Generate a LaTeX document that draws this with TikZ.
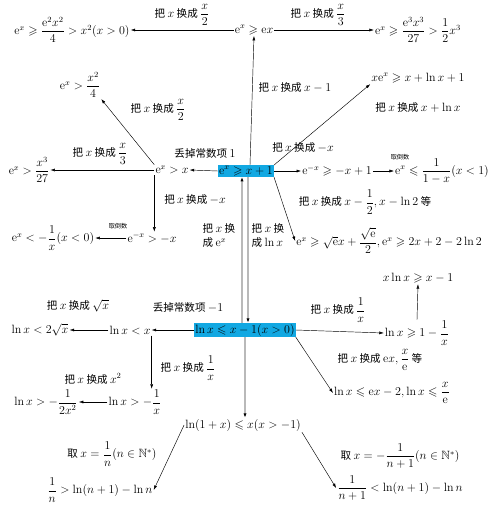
\documentclass[tikz,border=0pt]{standalone}
\usepackage{amsmath,amssymb}
\usepackage{fontspec}
\newfontfamily\cjk[Scale=0.88]{Noto Sans CJK SC}
\usetikzlibrary{arrows.meta}
\definecolor{hl}{RGB}{18,168,226}
\newcommand\eu{\mathrm{e}}
\begin{document}
\begin{tikzpicture}[x=1pt,y=-1pt,
  every node/.style={inner sep=1pt,font=\cjk\fontsize{12}{14}\selectfont},
  tinylbl/.style={font=\cjk\fontsize{7}{8}\selectfont},
  hlbox/.style={fill=hl,inner sep=1pt},
  arr/.style={-{Latex[length=4.5pt,width=3pt]},line width=0.45pt},
  garr/.style={-{Latex[length=4.5pt,width=3.2pt,color=black]},line width=1.3pt,draw=gray!55}]
\useasboundingbox (0,0) rectangle (500,507);
% expressions
\node (n1) at (72,30) {$\eu^x\geqslant\dfrac{\eu^2x^2}{4}>x^2(x>0)$};
\node (n2) at (254,30) {$\eu^x\geqslant\eu x$};
\node (n3) at (418,30) {$\eu^x\geqslant\dfrac{\eu^3x^3}{27}>\dfrac12x^3$};
\node (n4) at (80,85) {$\eu^x>\dfrac{x^2}{4}$};
\node (n5) at (418,78) {$x\eu^x\geqslant x+\ln x+1$};
\node (n6) at (29,170) {$\eu^x>\dfrac{x^3}{27}$};
\node (n7) at (172,170) {$\eu^x>x$};
\node[hlbox] (b1) at (246,171) {$\eu^x\geqslant x+1$};
\node (n8) at (337,171) {$\eu^{-x}\geqslant-x+1$};
\node (n9) at (442,171) {$\eu^x\leqslant\dfrac{1}{1-x}(x<1)$};
\node (n10) at (389,241) {$\eu^x\geqslant\sqrt{\eu}x+\dfrac{\sqrt{\eu}}{2},\eu^x\geqslant2x+2-2\ln2$};
\node (n11) at (152,238) {$\eu^{-x}>-x$};
\node (n12) at (53,238) {$\eu^x<-\dfrac1x(x<0)$};
\node[hlbox] (b2) at (245,330) {$\ln x\leqslant x-1(x>0)$};
\node (n13) at (130,330) {$\ln x<x$};
\node (n14) at (40,330) {$\ln x<2\sqrt{x}$};
\node (n15) at (417,333) {$\ln x\geqslant1-\dfrac1x$};
\node (n16) at (418,278) {$x\ln x\geqslant x-1$};
\node (n17) at (392,393) {$\ln x\leqslant\eu x-2,\ln x\leqslant\dfrac{x}{\eu}$};
\node (n18) at (135,402) {$\ln x>-\dfrac1x$};
\node (n19) at (46,402) {$\ln x>-\dfrac{1}{2x^2}$};
\node (n20) at (243,425) {$\ln(1+x)\leqslant x(x>-1)$};
\node (n21) at (100,490) {$\dfrac1n>\ln(n+1)-\ln n$};
\node (n22) at (400,488) {$\dfrac{1}{n+1}<\ln(n+1)-\ln n$};
% labels
\node (l1) at (182,15) {把 $x$ 换成 $\dfrac{x}{2}$};
\node (l2) at (318,15) {把 $x$ 换成 $\dfrac{x}{3}$};
\node (l3) at (295,88) {把 $x$ 换成 $x-1$};
\node (l4) at (158,110) {把 $x$ 换成 $\dfrac{x}{2}$};
\node (l5) at (418,108) {把 $x$ 换成 $x+\ln x$};
\node (l6) at (100,154) {把 $x$ 换成 $\dfrac{x}{3}$};
\node (l7) at (205,153) {丢掉常数项 $1$};
\node (l8) at (303,148) {把 $x$ 换成 $-x$};
\node[tinylbl] (l9) at (400,157) {取倒数};
\node (l10) at (365,202) {把 $x$ 换成 $x-\dfrac12,x-\ln2$ 等};
\node (l11) at (195,200) {把 $x$ 换成 $-x$};
\node[tinylbl] (l12) at (118,226) {取倒数};
\node[align=left] (l13) at (219,236) {把 $x$ 换\\成 $\eu^x$};
\node[align=left] (l14) at (268,236) {把 $x$ 换\\成 $\ln x$};
\node (l15) at (78,306) {把 $x$ 换成 $\sqrt{x}$};
\node (l16) at (188,308) {丢掉常数项 $-1$};
\node (l17) at (188,368) {把 $x$ 换成 $\dfrac1x$};
\node (l18) at (93,379) {把 $x$ 换成 $x^2$};
\node (l19) at (338,310) {把 $x$ 换成 $\dfrac1x$};
\node (l20) at (380,360) {把 $x$ 换成 $\eu x,\dfrac{x}{\eu}$ 等};
\node (l21) at (112,454) {取 $x=\dfrac1n(n\in\mathbb{N}^*)$};
\node (l22) at (400,456) {取 $x=-\dfrac{1}{n+1}(n\in\mathbb{N}^*)$};
% connectors
\draw[arr] (n2.west) -- (n1.east);
\draw[arr] (n2.east) -- (n3.west);
\draw[arr] ([xshift=4pt]b1.north) -- (n2.south);
\draw[arr] (n7.north west) -- (n4.south east);
\draw[arr] (b1.north east) -- (n5.south west);
\draw[arr] (n7.west) -- (n6.east);
\draw[arr] (b1.west) -- (n7.east);
\draw[arr] (b1.east) -- (n8.west);
\draw[arr] (n8.east) -- (n9.west);
\draw[arr] (b1.south east) -- (n10.west);
\draw[arr] (n7.south west) -- (n7.south west |- n11.north);
\draw[arr] (n11.west) -- (n12.east);
\draw[garr] ([xshift=-3pt]b2.north) -- ([xshift=-3pt]b2.north |- b1.south);
\draw[garr] ([xshift=2pt]b1.south) -- ([xshift=2pt]b1.south |- b2.north);
\draw[arr] (b2.west) -- (n13.east);
\draw[arr] (n13.west) -- (n14.east);
\draw[arr] (n13.south east) -- (n13.south east |- n18.north);
\draw[arr] (n18.west) -- (n19.east);
\draw[garr] (b2.south) -- (b2.south |- n20.north);
\draw[arr] (b2.east) -- (n15.west);
\draw[arr] (n15.north) -- (n16.south);
\draw[arr] (b2.south east) -- (n17.west);
\draw[arr] (n20.west) -- (n21.east);
\draw[arr] (n20.south east) -- (n22.west);
\end{tikzpicture}
\end{document}
